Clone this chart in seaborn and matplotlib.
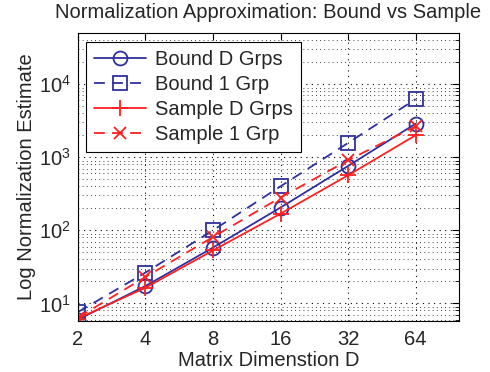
import numpy as np
import pandas as pd
import seaborn as sns
import matplotlib
matplotlib.use("Agg")
import matplotlib.pyplot as plt
from matplotlib.ticker import LogLocator, NullLocator, FixedLocator, FixedFormatter, NullFormatter

dims = [2, 4, 8, 16, 32, 64]
bound_d = [6.0, 17.3, 58, 205, 760, 2880]
bound_1 = [7.6, 26.4, 100, 400, 1570, 6240]
sample_d = [6.2, 16.4, 53, 169, 566, 2000]
sample_1 = [6.4, 23, 81, 281, 910, 2660]
labels = ["Bound D Grps", "Bound 1 Grp", "Sample D Grps", "Sample 1 Grp"]
xtick_labels = ["2", "4", "8", "16", "32", "64"]

sns.set_style("white")
plt.rcParams['font.family'] = ['Liberation Sans', 'DejaVu Sans']

blue = "#2f2f9f"
red = "#ff2020"
styles = [
    dict(color=blue, marker="o", dashes=False, mfc="none", ms=10),
    dict(color=blue, marker="s", dashes=True, mfc="none", ms=10),
    dict(color=red, marker="+", dashes=False, mfc=red, ms=12),
    dict(color=red, marker="x", dashes=True, mfc=red, ms=9),
]

FS = 14.5

fig = plt.figure(figsize=(4.9, 3.72), dpi=100)
ax = fig.add_axes([0.159, 0.138, 0.778, 0.773])

for lab, vals, st in zip(labels, [bound_d, bound_1, sample_d, sample_1], styles):
    df = pd.DataFrame({"D": dims, "v": vals})
    ls = (0, (6, 4)) if st["dashes"] else "-"
    sns.lineplot(data=df, x="D", y="v", ax=ax, color=st["color"], marker=st["marker"],
                 markersize=st["ms"], markerfacecolor=st["mfc"], markeredgecolor=st["color"],
                 markeredgewidth=1.3, linewidth=1.3, linestyle=ls, label=lab)

ax.set_xscale("log", base=2)
ax.set_yscale("log")
ax.set_xlim(2, 100)
ax.set_ylim(5.8, 5e4)
ax.xaxis.set_major_locator(FixedLocator(dims))
ax.xaxis.set_major_formatter(FixedFormatter(xtick_labels))
ax.xaxis.set_minor_locator(NullLocator())
ax.yaxis.set_major_locator(LogLocator(base=10, numticks=10))
ax.yaxis.set_minor_locator(LogLocator(base=10, subs=np.arange(2, 10), numticks=20))
ax.yaxis.set_minor_formatter(NullFormatter())

ax.grid(True, which="major", axis="both", color="black", linestyle=(0, (1, 4)), linewidth=0.8)
ax.grid(True, which="minor", axis="y", color="black", linestyle=(0, (1, 4)), linewidth=0.6)

ax.tick_params(which="both", direction="in", top=True, right=True, labelsize=FS, color="black")
ax.tick_params(which="major", length=5)
ax.tick_params(which="minor", length=3)
ax.tick_params(axis="x", pad=7)
ax.tick_params(axis="y", pad=5)
for sp in ax.spines.values():
    sp.set_color("black")
    sp.set_linewidth(0.8)

ax.set_xlabel("Matrix Dimenstion D", fontsize=FS, labelpad=1)
ax.set_ylabel("Log Normalization Estimate", fontsize=FS, labelpad=2)
ax.set_title("Normalization Approximation: Bound vs Sample", fontsize=FS, pad=11)

leg = ax.legend(loc="upper left", bbox_to_anchor=(0.021, 0.969), fontsize=FS, frameon=True,
                fancybox=False, edgecolor="black", framealpha=1, handlelength=2.6,
                labelspacing=0.3, borderaxespad=0, handletextpad=0.45, borderpad=0.4)
leg.get_frame().set_linewidth(0.8)

fig.savefig("out.png", dpi=100)
